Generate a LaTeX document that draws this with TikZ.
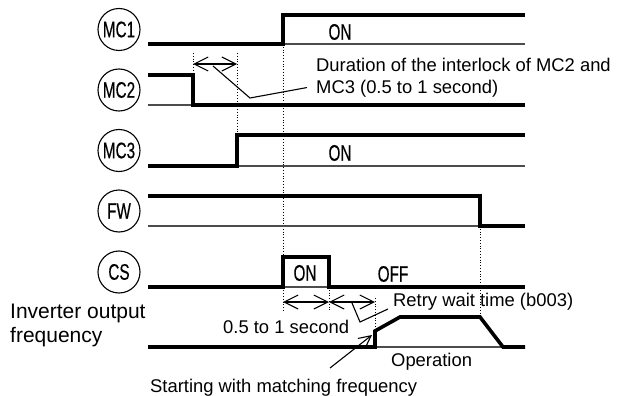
\documentclass[tikz,border=0pt]{standalone}
\usepackage{fontspec}
\setmainfont{Liberation Sans}
\newfontfamily\narrowfont[FakeStretch=0.68,FakeBold=0.4]{Liberation Sans}
\usetikzlibrary{arrows.meta}

\begin{document}
\begin{tikzpicture}[x=1pt,y=-1pt,
  sig/.style={line width=3.6pt,line join=miter},
  base/.style={line width=1.4pt,black!70},
  guide/.style={dotted,line width=0.8pt},
  lbl/.style={circle,draw,line width=1.1pt,minimum size=42pt,inner sep=0pt,font=\narrowfont\fontsize{22.5}{25}\selectfont},
  st/.style={font=\narrowfont\fontsize{22.5}{25}\selectfont,inner sep=0pt},
  txt/.style={font=\fontsize{18.4}{22}\selectfont,inner sep=0pt},
  span/.style={line width=1.1pt,{Straight Barb[length=14pt,width=14pt]}-{Straight Barb[length=14pt,width=14pt]}},
  lead/.style={line width=1.1pt}]
\useasboundingbox (0,0) rectangle (627,396);
% signal names
\foreach \n/\y in {MC1/29.5,MC2/90,MC3/150.5,FW/211,CS/272}
  \node[lbl] (c\n) at (119,\y) {\n};
% guides
\draw[guide] (193,53) -- (193,75);
\draw[guide] (237,53) -- (237,135);
\draw[guide] (283,44) -- (283,312);
\draw[guide] (329,287) -- (329,312);
\draw[guide] (375,298) -- (375,347);
\draw[guide] (480,226) -- (480,317);
% waveforms
\draw[base] (283,44) -- (525,44);
\draw[sig] (148,44) -- (283,44) -- (283,15) -- (525,15);
\draw[base] (148,105) -- (193,105);
\draw[sig] (148,75) -- (193,75) -- (193,105) -- (525,105);
\draw[base] (237,166) -- (525,166);
\draw[sig] (148,166) -- (237,166) -- (237,135) -- (525,135);
\draw[base] (148,226) -- (480,226);
\draw[sig] (148,196) -- (480,196) -- (480,226) -- (525,226);
\draw[base] (283,287) -- (329,287);
\draw[sig] (148,287) -- (283,287) -- (283,257) -- (329,257) -- (329,287) -- (525,287);
\draw[base] (375,347) -- (503,347);
\draw[sig] (148,347) -- (375,347) -- (375,331) -- (400,317) -- (480,317) -- (503,347) -- (525,347);
% states
\node[st] (on1) at (340,32) {ON};
\node[st] (on3) at (340,153) {ON};
\node[st] (on5) at (305,273) {ON};
\node[st] (off5) at (393,274) {OFF};
% texts
\node[txt,anchor=north west,align=left] (dur) at (316,58) {Duration of the interlock of MC2 and\\MC3 (0.5 to 1 second)};
\node[txt,anchor=base west] (retry) at (393,306) {Retry wait time (b003)};
\node[txt,anchor=base west] (sec) at (223,333) {0.5 to 1 second};
\node[txt,anchor=base west] (op) at (391,366) {Operation};
\node[txt,anchor=base west] (start) at (150,392) {Starting with matching frequency};
\node[font=\fontsize{21}{24}\selectfont,inner sep=0pt,anchor=north west,align=left] (inv) at (10,304) {Inverter output\\frequency};
% spans and leaders
\coordinate (lockL) at (193,64);
\coordinate (lockR) at (237,64);
\coordinate (onL) at (283,302);
\coordinate (onR) at (329,302);
\coordinate (waitR) at (375,302);
\coordinate (match) at (372,335);
\draw[span] (lockL) -- (lockR);
\draw[span] (onL) -- (onR);
\draw[span] (onR) -- (waitR);
\draw[lead] (213,66) -- (250,98) -- ([xshift=-9pt,yshift=10pt]dur.south west);
\draw[lead] (352,303) -- (360,322) -- ([xshift=-5pt,yshift=-3pt]retry.base west);
\draw[lead,-{Straight Barb[length=12pt,width=12pt]}] ([xshift=180pt,yshift=24pt]start.base west) -- (match);
\end{tikzpicture}
\end{document}
